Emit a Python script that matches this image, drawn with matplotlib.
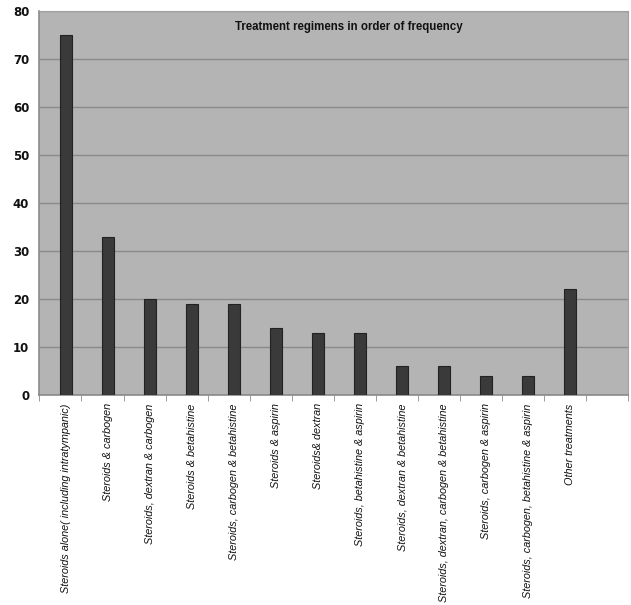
import matplotlib
matplotlib.use("Agg")
import matplotlib.pyplot as plt
import numpy as np

categories = [
    "Steroids alone( including intratympanic)",
    "Steroids & carbogen",
    "Steroids, dextran & carbogen",
    "Steroids & betahistine",
    "Steroids, carbogen & betahistine",
    "Steroids & aspirin",
    "Steroids& dextran",
    "Steroids, betahistine & aspirin",
    "Steroids, dextran & betahistine",
    "Steroids, dextran, carbogen & betahistine",
    "Steroids, carbogen & aspirin",
    "Steroids, carbogen, betahistine & aspirin",
    "Other treatments",
]
counts = [75, 33, 20, 19, 19, 14, 13, 13, 6, 6, 4, 4, 22]
yticks = [0, 10, 20, 30, 40, 50, 60, 70, 80]
title = "Treatment regimens in order of frequency"

fig = plt.figure(figsize=(6.31, 6.05), dpi=100)
ax = fig.add_axes([39 / 631, 210 / 605, (628 - 39) / 631, (395 - 11) / 605])
ax.set_facecolor("#b4b4b4")

x = np.arange(len(categories))
ax.bar(x, counts, width=0.29, color="#3a3a3a", edgecolor="#222222", linewidth=0.8, zorder=3)

ax.set_xlim(-0.64, 13.29)
ax.set_ylim(0, 80)
ax.set_yticks(yticks)
ax.set_yticklabels([str(v) for v in yticks], fontsize=8.5, fontweight="bold",
                   family=["DejaVu Sans"])
ax.yaxis.grid(True, color="#8a8a8a", linewidth=1.0, zorder=1)
ax.tick_params(axis="y", length=0, pad=7, colors="#111111")

ax.set_xticks(x)
ax.set_xticklabels(categories, rotation=90, va="top", ha="center", fontsize=7.8,
                   style="italic", family=["Liberation Sans"])
ax.tick_params(axis="x", length=0, pad=6, colors="#111111")
ax.set_xticks(np.arange(15) - 0.63, minor=True)
ax.tick_params(axis="x", which="minor", length=4, color="#8a8a8a", direction="out")

for side in ["left", "bottom"]:
    ax.spines[side].set_color("#8a8a8a")
    ax.spines[side].set_linewidth(1.2)
for side in ["top", "right"]:
    ax.spines[side].set_color("#a0a0a0")
    ax.spines[side].set_linewidth(0.8)

ax.text(6.74, 76.7, title, ha="center", va="center", fontsize=8.3, fontweight="bold",
        family=["Liberation Sans"], color="#111111")

fig.savefig("out.png", dpi=100)
